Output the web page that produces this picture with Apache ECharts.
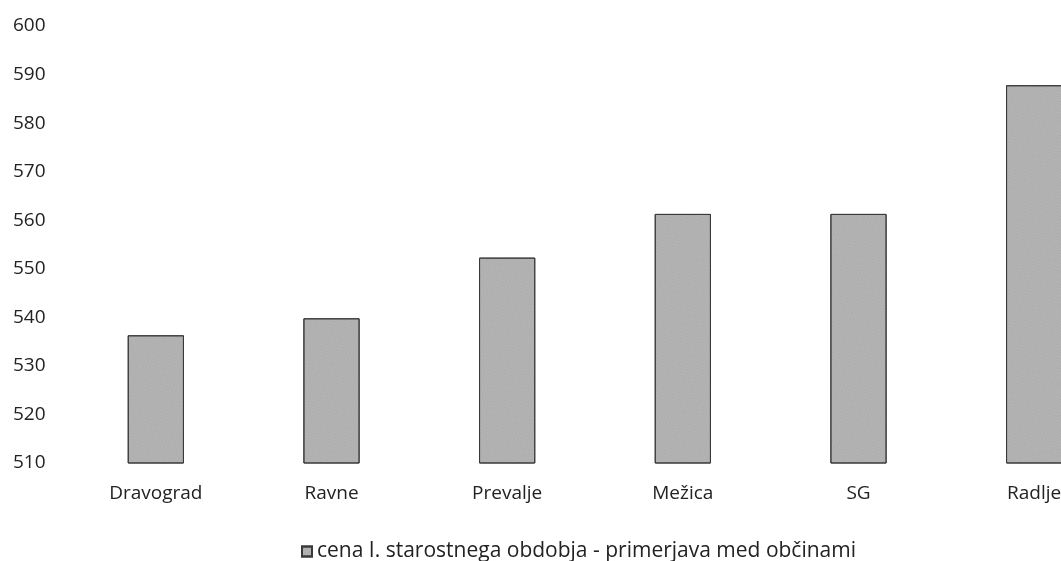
<!DOCTYPE html>
<html><head><meta charset="utf-8">
<script src="https://cdn.jsdelivr.net/npm/echarts@6/dist/echarts.min.js"></script>
<style>html,body{margin:0;padding:0;background:#fff}#c{width:1061px;height:561px}</style>
</head><body><div id="c"></div>
<script>
const categories = ["Dravograd", "Ravne", "Prevalje", "Mežica", "SG", "Radlje"];
const values = [536.3, 539.8, 552.3, 561.3, 561.3, 587.8];
const seriesName = "cena I. starostnega obdobja - primerjava med občinami";
const yMin = 510, yMax = 600, yStep = 10;

const chart = echarts.init(document.getElementById('c'));
const font = "'Open Sans', 'Noto Sans', sans-serif";
chart.setOption({
  animation: false,
  textStyle: { fontFamily: font },
  grid: { left: 68, right: -61, top: 26, bottom: 98, containLabel: false, outerBoundsMode: 'none' },
  legend: {
    top: 536, left: 296,
    itemWidth: 10, itemHeight: 10, itemGap: 4,
    textStyle: { fontSize: 21, color: '#222', fontFamily: font },
    data: [{ name: seriesName, icon: 'rect' }]
  },
  xAxis: {
    type: 'category', data: categories,
    axisLine: { show: false }, axisTick: { show: false },
    axisLabel: { fontSize: 19, color: '#222', margin: 21, fontFamily: font }
  },
  yAxis: {
    type: 'value', min: yMin, max: yMax, interval: yStep,
    splitLine: { show: false }, axisLine: { show: false }, axisTick: { show: false },
    axisLabel: { fontSize: 19, color: '#222', align: 'left', margin: 55, fontFamily: font }
  },
  series: [{
    name: seriesName, type: 'bar', data: values, barWidth: '32%',
    itemStyle: {
      color: '#b4b4b4', borderColor: '#3a3a3a', borderWidth: 1,
      decal: { symbol: 'rect', symbolSize: 0.6, color: 'rgba(60,60,60,0.35)', dashArrayX: [1, 1], dashArrayY: [1, 1], rotation: 0.7 }
    }
  }]
});
</script></body></html>
